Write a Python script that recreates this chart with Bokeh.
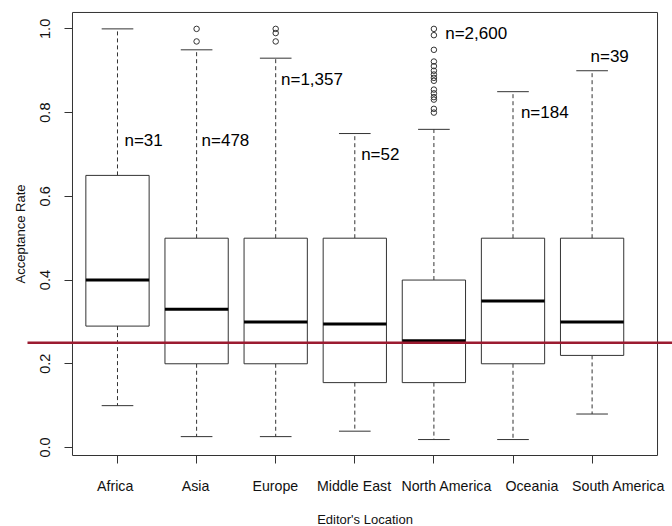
import numpy as np
from bokeh.plotting import figure
from bokeh.models import Range1d, FixedTicker, PrintfTickFormatter, ColumnDataSource
from bokeh.core.properties import value
from bokeh.embed import file_html
from bokeh.resources import INLINE

# ---------------- data ----------------
locations = ["Africa", "Asia", "Europe", "Middle East", "North America", "Oceania", "South America"]
whisker_low = [0.10, 0.026, 0.026, 0.039, 0.019, 0.019, 0.08]
q1 = [0.29, 0.20, 0.20, 0.155, 0.155, 0.20, 0.22]
median = [0.40, 0.33, 0.30, 0.295, 0.255, 0.35, 0.30]
q3 = [0.65, 0.50, 0.50, 0.50, 0.40, 0.50, 0.50]
whisker_high = [1.00, 0.95, 0.93, 0.75, 0.76, 0.85, 0.90]

n_labels = ["n=31", "n=478", "n=1,357", "n=52", "n=2,600", "n=184", "n=39"]
label_x = [1.088, 2.063, 3.067, 4.08, 5.143, 6.10, 6.98]
label_y = [0.733, 0.733, 0.88, 0.70, 0.99, 0.80, 0.935]

# category names are printed slightly right of their ticks for the last three
category_label_x = [0.971, 1.986, 2.995, 3.99, 5.163, 6.239, 7.335]

outlier_group = [2, 2,
                 3, 3, 3,
                 5, 5, 5, 5, 5, 5, 5, 5, 5, 5, 5, 5, 5, 5, 5]
outlier_value = [1.00, 0.97,
                 1.00, 0.99, 0.97,
                 1.00, 0.985, 0.95, 0.922, 0.911, 0.90, 0.891, 0.883, 0.876,
                 0.855, 0.846, 0.837, 0.831, 0.809, 0.80]

reference_rate = 0.25

x_title = "Editor's Location"
y_title = "Acceptance Rate"
y_ticks = [0.0, 0.2, 0.4, 0.6, 0.8, 1.0]

# ---------------- layout constants (data units) ----------------
FONT = "Liberation Sans"
LINE = "#333333"
X_LIM = (-0.4791, 8.0164)            # whole canvas width
Y_LIM = (-0.1887, 1.0678)            # whole canvas height
BOX_X0, BOX_X1 = 0.431, 7.827        # R plot box
BOX_Y0, BOX_Y1 = -0.0191, 1.0392
REF_X0 = -0.1378                     # where the reference line starts
XLABEL_Y = -0.0908
XTITLE_Y = -0.172
YTITLE_X = -0.226

pos = np.arange(1, len(locations) + 1)

p = figure(width=672, height=526, output_backend="svg", toolbar_location=None,
           x_range=Range1d(*X_LIM), y_range=Range1d(*Y_LIM),
           min_border_left=0, min_border_right=0, min_border_top=0, min_border_bottom=0)
p.background_fill_color = "white"
p.border_fill_color = "white"
p.outline_line_color = None
p.xgrid.grid_line_color = None
p.ygrid.grid_line_color = None

# plot box (R's box())
p.quad(left=[BOX_X0], right=[BOX_X1], bottom=[BOX_Y0], top=[BOX_Y1],
       fill_color=None, line_color=LINE, line_width=1)

src = ColumnDataSource(dict(x=pos, lo=whisker_low, q1=q1, med=median, q3=q3, hi=whisker_high,
                            x0=pos - 0.4, x1=pos + 0.4, c0=pos - 0.2, c1=pos + 0.2))

# whiskers (dashed)
p.segment(x0="x", y0="q3", x1="x", y1="hi", source=src, line_color=LINE, line_width=1, line_dash="4 3")
p.segment(x0="x", y0="q1", x1="x", y1="lo", source=src, line_color=LINE, line_width=1, line_dash="4 3")
# caps
p.segment(x0="c0", y0="hi", x1="c1", y1="hi", source=src, line_color=LINE, line_width=1)
p.segment(x0="c0", y0="lo", x1="c1", y1="lo", source=src, line_color=LINE, line_width=1)
# boxes
p.vbar(x="x", width=0.8, bottom="q1", top="q3", source=src, fill_color="white",
       line_color=LINE, line_width=1)
# medians
p.segment(x0="x0", y0="med", x1="x1", y1="med", source=src, line_color="black", line_width=3)

# outliers
p.scatter(x=outlier_group, y=outlier_value, marker="circle", size=5.5, fill_color=None,
          line_color=LINE, line_width=1)

# n labels
p.text(x=label_x, y=label_y, text=n_labels, text_font=value(FONT), text_font_size="17px",
       text_align="left", text_baseline="middle", text_color="black")

# reference line (runs past the plot box to the right edge)
p.ray(x=[REF_X0], y=[reference_rate], length=0, angle=0, line_color="#9b1b30", line_width=2.5)

# category names under the ticks
p.text(x=category_label_x, y=[XLABEL_Y] * len(locations), text=locations, text_font=value(FONT),
       text_font_size="14.2px", text_align="center", text_baseline="middle", text_color="#111111")

# axis titles
p.text(x=[(BOX_X0 + BOX_X1) / 2], y=[XTITLE_Y], text=[x_title], text_font=value(FONT),
       text_font_size="13px", text_align="center", text_baseline="middle", text_color="#111111")
p.text(x=[YTITLE_X], y=[(BOX_Y0 + BOX_Y1) / 2], text=[y_title], angle=np.pi / 2,
       text_font=value(FONT), text_font_size="13px", text_align="center",
       text_baseline="middle", text_color="#111111")

# axes, attached to the plot box
xa = p.xaxis[0]
xa.fixed_location = BOX_Y0
xa.ticker = FixedTicker(ticks=list(pos))
xa.major_label_overrides = {int(i): "" for i in pos}
ya = p.yaxis[0]
ya.fixed_location = BOX_X0
ya.ticker = FixedTicker(ticks=y_ticks)
ya.formatter = PrintfTickFormatter(format="%.1f")
ya.major_label_orientation = "vertical"

for ax in (xa, ya):
    ax.axis_line_color = None
    ax.major_tick_line_color = LINE
    ax.minor_tick_line_color = None
    ax.major_tick_in = 0
    ax.major_tick_out = 8
    ax.major_label_text_font = FONT
    ax.major_label_text_font_size = "14.5px"
    ax.major_label_text_color = "#111111"

xa.major_label_standoff = 12
ya.major_label_standoff = 14

open("out.html", "w").write(file_html(p, INLINE))
